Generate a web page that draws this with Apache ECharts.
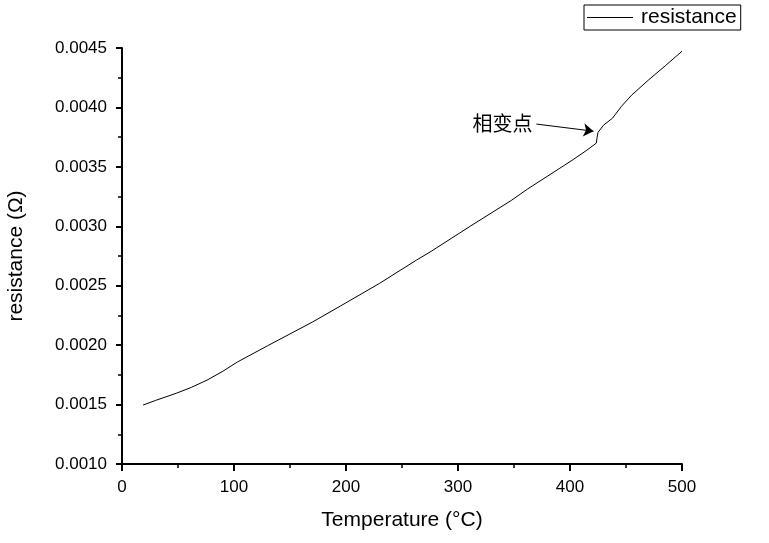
<!DOCTYPE html>
<html>
<head>
<meta charset="utf-8">
<script src="https://cdn.jsdelivr.net/npm/echarts@6/dist/echarts.min.js"></script>
<style>html,body{margin:0;padding:0;background:#fff;}#c{width:769px;height:543px;}</style>
</head>
<body>
<div id="c"></div>
<script>
var temperature = [18.8, 30, 49, 62, 76, 90, 103, 130, 170, 195, 230, 263, 275, 310, 348, 362, 391, 402, 415, 423.5, 424.2, 425, 430, 438, 446, 455, 470, 485, 500];
var resistance = [0.001496, 0.001535, 0.001597, 0.001645, 0.001706, 0.001780, 0.001858, 0.001995, 0.002194, 0.002329, 0.002520, 0.002716, 0.002783, 0.002995, 0.003220, 0.003313, 0.003489, 0.003556, 0.003640, 0.003700, 0.003750, 0.003790, 0.003851, 0.003910, 0.004010, 0.004103, 0.004230, 0.004350, 0.004473];
var xTicks = [0, 100, 200, 300, 400, 500];
var yTicks = ['0.0010','0.0015','0.0020','0.0025','0.0030','0.0035','0.0040','0.0045'];
var annotationText = '相变点';
var annotationFrom = [370, 0.00386];
var annotationTo = [421, 0.00380];

var chart = echarts.init(document.getElementById('c'));
var data = temperature.map(function (t, i) { return [t, resistance[i]]; });
chart.setOption({
  animation: false,
  backgroundColor: '#fff',
  grid: { left: 122, right: 87, top: 48, bottom: 79, containLabel: false, outerBoundsMode: 'none' },
  legend: {
    left: 584, top: 5,
    padding: [2, 4, 2, 3],
    borderColor: '#000', borderWidth: 1, borderRadius: 0,
    icon: 'rect',
    itemWidth: 46, itemHeight: 1,
    textStyle: { fontFamily: 'Liberation Sans, Arial, sans-serif', fontSize: 21, color: '#000', padding: [0, 0, 0, 3] },
    data: ['resistance']
  },
  xAxis: {
    type: 'value', min: 0, max: 500, interval: 100,
    name: 'Temperature (°C)', nameLocation: 'middle', nameGap: 46,
    nameTextStyle: { fontFamily: 'Liberation Sans, Arial, sans-serif', fontSize: 21, color: '#000' },
    axisLine: { show: true, onZero: false, lineStyle: { color: '#000', width: 2 } },
    axisTick: { show: true, length: 7, lineStyle: { color: '#000', width: 2 } },
    minorTick: { show: true, splitNumber: 2, length: 4, lineStyle: { color: '#000', width: 1.5 } },
    splitLine: { show: false },
    axisLabel: { margin: 15, fontFamily: 'Liberation Sans, Arial, sans-serif', fontSize: 17, color: '#000',
      formatter: function (v) { return xTicks.indexOf(v) >= 0 ? String(v) : ''; } }
  },
  yAxis: {
    type: 'value', min: 0.0010, max: 0.0045, interval: 0.0005,
    name: 'resistance (Ω)', nameLocation: 'middle', nameGap: 95, nameRotate: 90,
    nameTextStyle: { fontFamily: 'Liberation Sans, Arial, sans-serif', fontSize: 21, color: '#000' },
    axisLine: { show: true, onZero: false, lineStyle: { color: '#000', width: 2 } },
    axisTick: { show: true, length: 6, lineStyle: { color: '#000', width: 2 } },
    minorTick: { show: true, splitNumber: 2, length: 4, lineStyle: { color: '#000', width: 1.5 } },
    splitLine: { show: false },
    axisLabel: { margin: 15, fontFamily: 'Liberation Sans, Arial, sans-serif', fontSize: 17, color: '#000',
      formatter: function (v) { var s = v.toFixed(4); return yTicks.indexOf(s) >= 0 ? s : ''; } }
  },
  series: [{
    name: 'resistance', type: 'line', data: data,
    showSymbol: false, symbol: 'none', smooth: false,
    lineStyle: { color: '#000', width: 1 }, itemStyle: { color: '#000' },
    markLine: {
      silent: true, animation: false,
      symbol: ['none', 'arrow'], symbolSize: 10,
      lineStyle: { color: '#000', width: 1, type: 'solid' },
      label: { show: true, position: 'start', formatter: annotationText, distance: 4,
        fontFamily: 'Noto Sans CJK SC, sans-serif', fontSize: 20, color: '#000' },
      data: [[{ coord: annotationFrom }, { coord: annotationTo }]]
    }
  }]
});
</script>
</body>
</html>
